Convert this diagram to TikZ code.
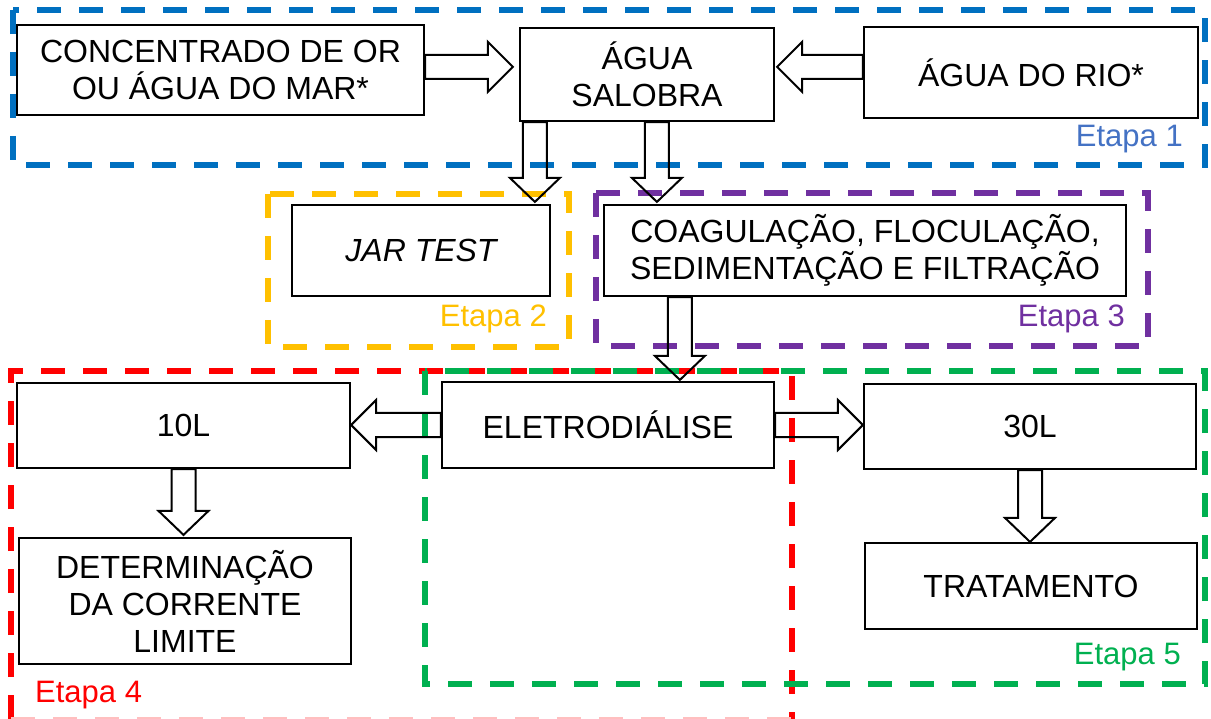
\documentclass[tikz,border=0pt]{standalone}
\usepackage{fontspec}
\setmainfont{Liberation Sans}
\usetikzlibrary{calc}
\definecolor{cblue}{HTML}{0070C0}
\definecolor{lblue}{HTML}{4472C4}
\definecolor{cyellow}{HTML}{FFC000}
\definecolor{cpurple}{HTML}{7030A0}
\definecolor{cred}{HTML}{FF0000}
\definecolor{cgreen}{HTML}{00B050}
\newcommand\BlockDown[2]{\draw[blockarr] let \p1=(#1), \p2=(#2) in
  (\x2-12pt,\y1) -- (\x2-12pt,\y2+24pt) -- (\x2-25pt,\y2+24pt) -- (\x2,\y2) --
  (\x2+25pt,\y2+24pt) -- (\x2+12pt,\y2+24pt) -- (\x2+12pt,\y1) -- cycle;}
\newcommand\BlockRight[2]{\draw[blockarr] let \p1=(#1), \p2=(#2) in
  (\x1,\y2+12pt) -- (\x2-25pt,\y2+12pt) -- (\x2-25pt,\y2+25pt) -- (\x2,\y2) --
  (\x2-25pt,\y2-25pt) -- (\x2-25pt,\y2-12pt) -- (\x1,\y2-12pt) -- cycle;}
\newcommand\BlockLeft[2]{\draw[blockarr] let \p1=(#1), \p2=(#2) in
  (\x1,\y2+12pt) -- (\x2+25pt,\y2+12pt) -- (\x2+25pt,\y2+25pt) -- (\x2,\y2) --
  (\x2+25pt,\y2-25pt) -- (\x2+25pt,\y2-12pt) -- (\x1,\y2-12pt) -- cycle;}
\begin{document}
\begin{tikzpicture}[x=1pt,y=-1pt,
  box/.style={draw=black, line width=2.2pt, fill=white, align=center, inner sep=0pt,
    font=\fontsize{32}{37}\selectfont},
  stage/.style={line width=6pt, dash pattern=on 24pt off 18pt, line join=miter},
  blockarr/.style={draw=black, line width=2pt, line join=miter},
  lbl/.style={font=\fontsize{31}{36}\selectfont, inner sep=0pt}]
\useasboundingbox (0,0) rectangle (1211,719);

% stage frames
\draw[stage, cblue] (13,10) rectangle (1205,165);
\draw[stage, cyellow] (268,194) rectangle (569,347);
\draw[stage, cpurple] (596,193) rectangle (1148,346);
\draw[stage, cred] (11,719) -- (11,371) -- (792,371) -- (792,719);
\draw[cred!25, line width=2pt, dash pattern=on 24pt off 18pt] (11,718) -- (792,718);
\draw[stage, cgreen] (425,371) rectangle (1205,684);

% boxes
\node[box, minimum width=407pt, minimum height=90pt] (conc) at (220.5,70) {CONCENTRADO DE OR\\OU ÁGUA DO MAR*};
\node[box, minimum width=254pt, minimum height=93pt] (salobra) at (647,74.5) {ÁGUA\\SALOBRA};
\node[box, minimum width=334pt, minimum height=91pt] (rio) at (1031,72.5) {ÁGUA DO RIO*};
\node[box, minimum width=258pt, minimum height=91pt] (jar) at (421,250.5) {\itshape JAR TEST};
\node[box, minimum width=522pt, minimum height=91pt] (coag) at (865,250.5) {COAGULAÇÃO, FLOCULAÇÃO,\\SEDIMENTAÇÃO E FILTRAÇÃO};
\node[box, minimum width=333pt, minimum height=85pt] (ten) at (183.5,425.5) {10L};
\node[box, minimum width=332pt, minimum height=86pt] (eletro) at (608,425) {ELETRODIÁLISE};
\node[box, minimum width=332pt, minimum height=85pt] (thirty) at (1030,426.5) {30L};
\node[box, minimum width=332pt, minimum height=126pt] (det) at (185,601) {DETERMINAÇÃO\\DA CORRENTE\\LIMITE};
\node[box, minimum width=332pt, minimum height=86pt] (trat) at (1031,586) {TRATAMENTO};

% stage labels
\node[lbl, text=lblue, anchor=base east] (e1) at (1183,147) {Etapa 1};
\node[lbl, text=cyellow, anchor=base east] (e2) at (547,327) {Etapa 2};
\node[lbl, text=cpurple, anchor=base east] (e3) at (1125,327) {Etapa 3};
\node[lbl, text=cred, anchor=base west] (e4) at (35,702) {Etapa 4};
\node[lbl, text=cgreen, anchor=base east] (e5) at (1181,664) {Etapa 5};

% connector end points
\coordinate (a1s) at (conc.east);
\coordinate (a1t) at ($(salobra.north west)+(-6,40)$);
\coordinate (a2s) at (rio.west);
\coordinate (a2t) at ($(salobra.north east)+(2,40)$);
\coordinate (a3s) at ($(salobra.south west)+(16,0)$);
\coordinate (a3t) at ($(a3s |- jar.north)+(0,-2)$);
\coordinate (a4s) at ($(salobra.south west)+(138,0)$);
\coordinate (a4t) at ($(a4s |- coag.north)+(0,-2)$);
\coordinate (a5s) at ($(coag.south west)+(77,0)$);
\coordinate (a5t) at ($(a5s |- eletro.north)+(0,-1)$);
\coordinate (a6s) at (eletro.west);
\coordinate (a6t) at (ten.east |- eletro.west);
\coordinate (a7s) at (eletro.east);
\coordinate (a7t) at (thirty.west |- eletro.east);
\coordinate (a8s) at (ten.south);
\coordinate (a8t) at ($(ten.south |- det.north)+(0,-2)$);
\coordinate (a9s) at (thirty.south);
\coordinate (a9t) at (thirty.south |- trat.north);

% block arrows
\BlockRight{a1s}{a1t}
\BlockLeft{a2s}{a2t}
\BlockDown{a3s}{a3t}
\BlockDown{a4s}{a4t}
\BlockDown{a5s}{a5t}
\BlockLeft{a6s}{a6t}
\BlockRight{a7s}{a7t}
\BlockDown{a8s}{a8t}
\BlockDown{a9s}{a9t}
\end{tikzpicture}
\end{document}
